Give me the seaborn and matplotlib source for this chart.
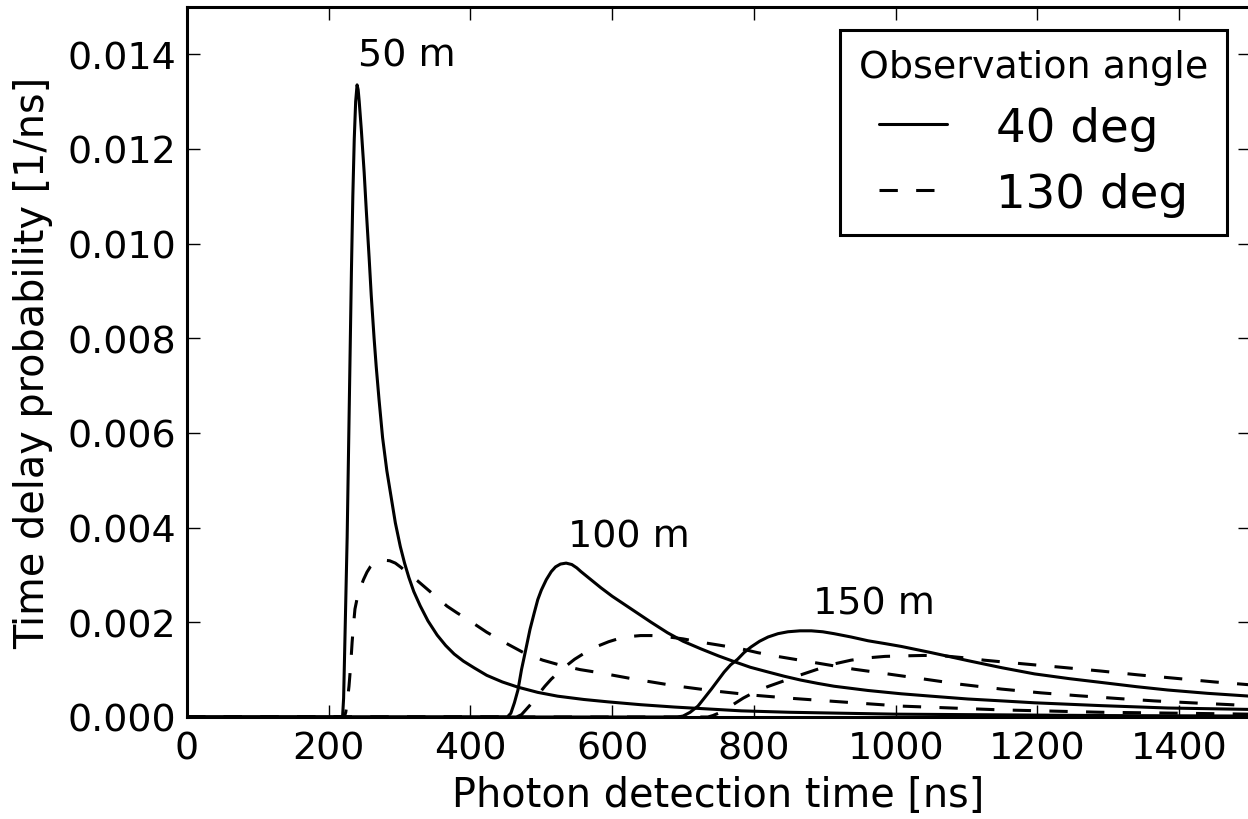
import matplotlib
matplotlib.use("Agg")
import matplotlib.pyplot as plt
import numpy as np
import pandas as pd
import seaborn as sns
from matplotlib.lines import Line2D
from matplotlib.ticker import FormatStrFormatter

# ---------------- data ----------------
angles = ["40 deg", "130 deg"]
distances = ["50 m", "100 m", "150 m"]

# 40 deg, 50 m
t_40_50 = [0, 219.5, 221, 222.5, 226, 229, 232, 234, 236, 238, 240, 241.5, 243, 246,
           250, 253, 257, 260, 264, 267, 271, 276, 282, 288, 294, 301, 307, 313, 320,
           329, 340, 353, 365, 377, 390, 405, 423, 445, 467, 495, 523, 560, 594, 640,
           688, 735, 782, 850, 923, 1000, 1100, 1200, 1300, 1400, 1500]
p_40_50 = [0, 0, 0.0004, 0.0014, 0.0038, 0.0066, 0.0094, 0.0110, 0.0122, 0.0130,
           0.01335, 0.01325, 0.0130, 0.0124, 0.0115, 0.0107, 0.0097, 0.0089, 0.0080,
           0.0074, 0.0067, 0.0059, 0.0052, 0.00465, 0.0041, 0.0036, 0.00325, 0.00295,
           0.00265, 0.00235, 0.00203, 0.00173, 0.00151, 0.00133, 0.00118, 0.00104,
           0.00088, 0.00074, 0.00063, 0.00052, 0.00044, 0.00037, 0.00032, 0.00026,
           0.00021, 0.00017, 0.00013, 0.0001, 0.00008, 0.00006, 0.00005, 0.00004,
           0.00003, 0.000025, 0.00002]

# 130 deg, 50 m
t_130_50 = [0, 222, 224, 226, 228.6, 231, 233, 235, 237, 240, 244, 249, 254, 259, 265,
            272, 279, 286, 294, 302, 310, 325, 339, 353, 367, 381, 395, 409, 423, 450,
            476, 502, 528, 555, 580, 631, 688, 744, 800, 857, 913, 1008, 1149, 1290,
            1400, 1500]
p_130_50 = [0, 0, 0.0001, 0.0003, 0.00065, 0.0011, 0.00158, 0.00195, 0.00228, 0.0025,
            0.0027, 0.0029, 0.00306, 0.00318, 0.00327, 0.0033, 0.00331, 0.0033,
            0.00325, 0.00316, 0.00306, 0.00288, 0.0027, 0.00252, 0.00234, 0.0022,
            0.00207, 0.00193, 0.00179, 0.00156, 0.00135, 0.0012, 0.00109, 0.001,
            0.00094, 0.0008, 0.00066, 0.00055, 0.00046, 0.00039, 0.00033, 0.00023,
            0.00015, 0.0001, 0.00008, 0.00006]

# 40 deg, 100 m
t_40_100 = [0, 452, 457, 462, 467, 472, 478, 484, 490, 495, 500, 507, 514, 520, 527,
            535, 543, 550, 556, 570, 584, 600, 615, 631, 655, 678, 700, 725, 750, 772,
            795, 820, 843, 866, 890, 913, 961, 1008, 1050, 1102, 1150, 1196, 1290,
            1384, 1500]
p_40_100 = [0, 0, 0.00008, 0.0003, 0.00057, 0.001, 0.00142, 0.00185, 0.0022, 0.00248,
            0.00268, 0.0029, 0.00307, 0.00317, 0.00323, 0.00325, 0.00322, 0.00315,
            0.00307, 0.0029, 0.00273, 0.00255, 0.0024, 0.00224, 0.002, 0.00178,
            0.0016, 0.00144, 0.00129, 0.00117, 0.00105, 0.00095, 0.00086, 0.00078,
            0.00071, 0.00065, 0.00056, 0.00049, 0.00044, 0.00038, 0.00034, 0.0003,
            0.00024, 0.00019, 0.00016]

# 130 deg, 100 m
t_130_100 = [0, 465, 472, 481, 490, 497, 505, 514, 530, 547, 563, 580, 595, 608, 625,
             640, 655, 669, 685, 700, 725, 750, 782, 805, 829, 857, 885, 913, 941, 970,
             998, 1036, 1092, 1149, 1205, 1257, 1314, 1365, 1417, 1473, 1500]
p_130_100 = [0, 0, 0.00005, 0.0002, 0.00035, 0.0005, 0.00065, 0.0008, 0.00102,
             0.00122, 0.00137, 0.0015, 0.00159, 0.00165, 0.0017, 0.00172, 0.00172,
             0.00171, 0.00168, 0.00165, 0.00158, 0.00152, 0.00144, 0.00136, 0.00129,
             0.00122, 0.00115, 0.00108, 0.00101, 0.00095, 0.00089, 0.00081, 0.00069,
             0.00059, 0.00051, 0.00045, 0.00039, 0.00034, 0.0003, 0.00026, 0.00024]

# 40 deg, 150 m
t_40_150 = [0, 692, 700, 710, 721, 730, 740, 749, 758, 767, 777, 786, 796, 808, 820,
            834, 848, 865, 881, 897, 913, 937, 961, 985, 1008, 1050, 1102, 1150, 1196,
            1245, 1290, 1340, 1384, 1440, 1500]
p_40_150 = [0, 0, 0.00002, 0.0001, 0.00023, 0.0004, 0.00059, 0.00077, 0.00095,
            0.0011, 0.00122, 0.00136, 0.00148, 0.0016, 0.00169, 0.00176, 0.0018,
            0.00182, 0.00182, 0.0018, 0.00176, 0.00169, 0.00161, 0.00155, 0.00149,
            0.00136, 0.00119, 0.00104, 0.00091, 0.00081, 0.00073, 0.00064, 0.00057,
            0.0005, 0.00044]

# 130 deg, 150 m
t_130_150 = [0, 735, 742, 750, 764, 785, 804, 821, 838, 862, 888, 913, 937, 961, 985,
             1008, 1040, 1069, 1097, 1125, 1182, 1234, 1290, 1342, 1393, 1450, 1500]
p_130_150 = [0, 0, 0.00003, 0.00008, 0.0002, 0.0004, 0.00055, 0.00065, 0.00074,
             0.00087, 0.001, 0.00112, 0.0012, 0.00125, 0.00128, 0.00129, 0.0013,
             0.00129, 0.00125, 0.0012, 0.00112, 0.00105, 0.00097, 0.00089, 0.00082,
             0.00074, 0.00068]

# label anchor positions (just above the peak of each solid curve)
label_t = [241, 538, 883]
label_p = [0.01375, 0.0036, 0.00218]

x_ticks = [0, 200, 400, 600, 800, 1000, 1200, 1400]
y_ticks = [0.000, 0.002, 0.004, 0.006, 0.008, 0.010, 0.012, 0.014]

# ---------------- build long-form table ----------------
series = {
    ("40 deg", "50 m"): (t_40_50, p_40_50),
    ("130 deg", "50 m"): (t_130_50, p_130_50),
    ("40 deg", "100 m"): (t_40_100, p_40_100),
    ("130 deg", "100 m"): (t_130_100, p_130_100),
    ("40 deg", "150 m"): (t_40_150, p_40_150),
    ("130 deg", "150 m"): (t_130_150, p_130_150),
}
frames = []
for (ang, dist), (tt, pp) in series.items():
    frames.append(pd.DataFrame({"t": tt, "p": pp, "angle": ang, "distance": dist}))
df = pd.concat(frames, ignore_index=True)

# ---------------- style ----------------
sns.set_style("ticks")
plt.rcParams.update({
    "font.family": ["DejaVu Sans"],
    "xtick.direction": "in",
    "ytick.direction": "in",
    "xtick.top": True,
    "ytick.right": True,
    "xtick.major.size": 4.5,
    "ytick.major.size": 4.5,
    "xtick.major.width": 0.5,
    "ytick.major.width": 0.5,
    "xtick.major.pad": 5,
    "ytick.major.pad": 4,
    "axes.linewidth": 1.1,
    "axes.edgecolor": "black",
    "xtick.color": "black",
    "ytick.color": "black",
    "text.color": "black",
    "axes.labelcolor": "black",
    "lines.solid_joinstyle": "round",
    "lines.dash_joinstyle": "round",
})

FS = 13.7
FS_LABEL = 14.3
W, H = 1248, 820
fig = plt.figure(figsize=(W / 200, H / 200), dpi=200)
ax = fig.add_axes([187 / W, 102 / H, 1063 / W, 710.25 / H])

lw = 1.1
sns.lineplot(data=df, x="t", y="p", style="angle", style_order=angles,
             units="distance", estimator=None, sort=False, color="black",
             dashes={"40 deg": "", "130 deg": (6, 6)}, linewidth=lw,
             legend=False, ax=ax)

ax.set_xlim(0, 1500)
ax.set_ylim(0, 0.015)
ax.set_xticks(x_ticks)
ax.set_yticks(y_ticks)
ax.yaxis.set_major_formatter(FormatStrFormatter("%.3f"))
ax.tick_params(labelsize=FS)
ax.set_xlabel("Photon detection time [ns]", fontsize=FS_LABEL, labelpad=3)
ax.set_ylabel("Time delay probability [1/ns]", fontsize=FS_LABEL, labelpad=5)

for name, tx, ty in zip(distances, label_t, label_p):
    ax.text(tx, ty, name, fontsize=FS, ha="left", va="baseline")

handles = [Line2D([], [], color="black", lw=lw, linestyle="-"),
           Line2D([], [], color="black", lw=lw, dashes=(6, 6))]
leg = ax.legend(handles, angles, title="Observation angle", loc="upper right",
                fontsize=16.8, title_fontsize=FS, frameon=True, fancybox=False,
                edgecolor="black", framealpha=1, handlelength=1.45,
                handletextpad=1.05, borderpad=0.4, borderaxespad=0.5,
                labelspacing=0.45)
leg.get_frame().set_linewidth(1.1)

fig.savefig("out.png", dpi=200)
